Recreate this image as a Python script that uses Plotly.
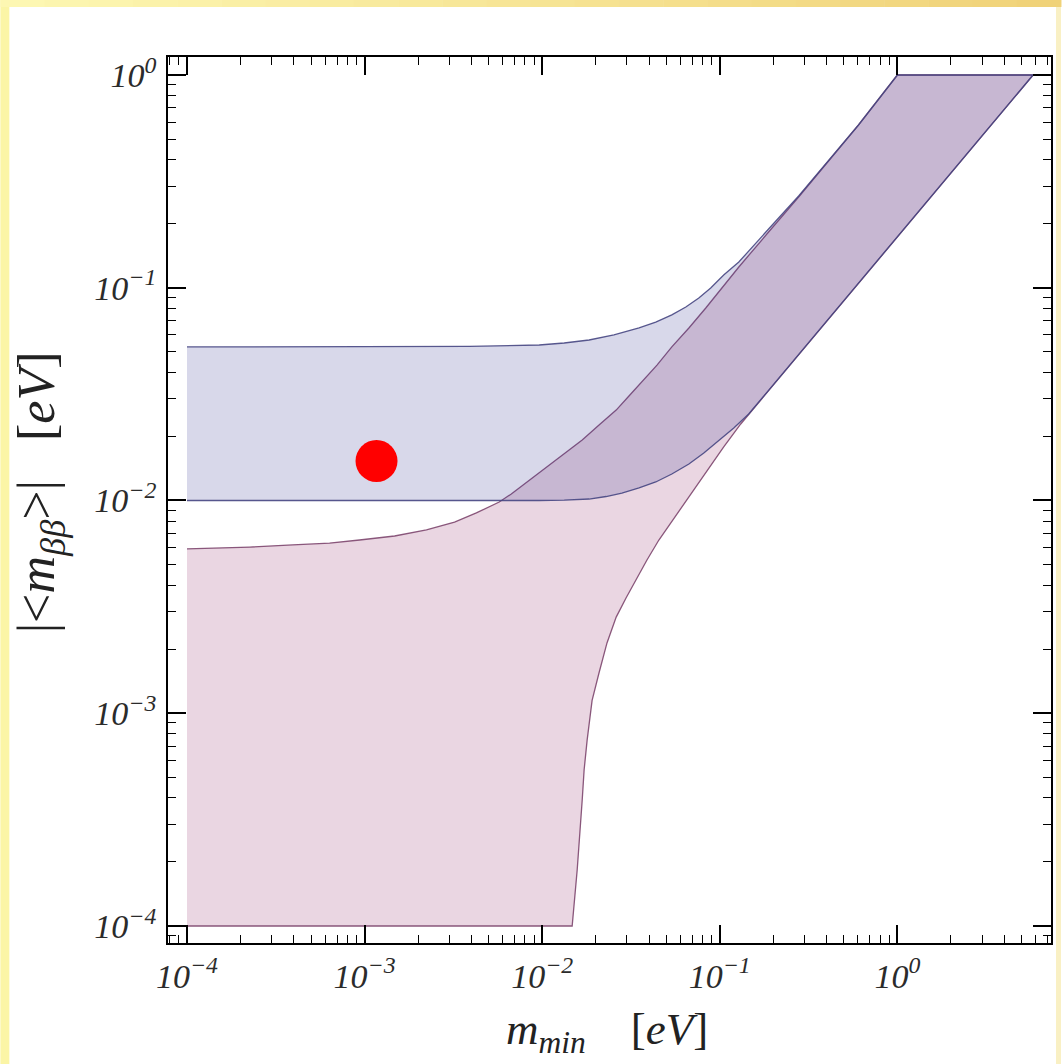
import plotly.graph_objects as go

# ---------------- data ----------------
# Normal hierarchy (pink band): upper boundary, left -> right
nh_upper_m   = [1e-4, 2.26e-4, 3.94e-4, 6.35e-4, 9.37e-4, 1.476e-3, 2.23e-3, 3.21e-3, 4.26e-3,
                5.04e-3, 5.73e-3, 6.70e-3, 7.93e-3, 9.25e-3, 0.01094, 0.01346, 0.0168, 0.0209,
                0.0261, 0.0308, 0.0365, 0.0443, 0.0537, 0.0670, 0.0834, 0.1025, 0.128, 0.1883,
                0.278, 0.604, 1.0, 5.81]
nh_upper_mbb = [5.92e-3, 6.04e-3, 6.18e-3, 6.31e-3, 6.52e-3, 6.81e-3, 7.27e-3, 7.92e-3, 8.74e-3,
                9.32e-3, 9.84e-3, 0.01073, 0.01196, 0.01318, 0.01468, 0.01672, 0.01925, 0.02264,
                0.0266, 0.0310, 0.0361, 0.0433, 0.0527, 0.0647, 0.0803, 0.0997, 0.1252, 0.1828,
                0.267, 0.582, 1.0, 1.0]
# Normal hierarchy: lower boundary, right -> left
nh_lower_m   = [5.81, 1.01, 0.278, 0.1656, 0.1312, 0.105, 0.0834, 0.0612, 0.0454, 0.0389, 0.0337,
                0.02965, 0.0261, 0.02317, 0.0209, 0.01986, 0.0191, 0.01791, 0.01722, 0.0168,
                0.01574, 0.01475, 1e-4]
nh_lower_mbb = [1.0, 0.175, 0.0483, 0.0287, 0.02289, 0.0178, 0.01346, 0.00932, 0.00652, 5.25e-3,
                0.00423, 3.48e-3, 0.00283, 2.14e-3, 0.00155, 1.314e-3, 0.00115, 7.48e-4, 5.41e-4,
                3.91e-4, 1.833e-4, 1e-4, 1e-4]

# Inverted hierarchy (blue band): upper boundary, left -> right
ih_upper_m   = [1e-4, 1.574e-3, 3.89e-3, 9.62e-3, 0.0133, 0.01837, 0.02535, 0.0351, 0.0436,
                0.0537, 0.0644, 0.0762, 0.0889, 0.1052, 0.128, 0.1883, 0.278, 0.604, 1.0, 5.81]
ih_upper_mbb = [0.0527, 0.0527, 0.0530, 0.0538, 0.0550, 0.0568, 0.0600, 0.0647, 0.0690,
                0.0745, 0.0812, 0.0895, 0.0997, 0.1148, 0.1321, 0.1888, 0.270, 0.582, 1.0, 1.0]
# Inverted hierarchy: lower boundary, right -> left
ih_lower_m   = [5.81, 1.01, 0.278, 0.1883, 0.1455, 0.1199, 0.0986, 0.0813, 0.0670, 0.0537,
                0.0436, 0.0351, 0.0281, 0.0229, 0.01837, 0.0133, 9.62e-3, 1e-4]
ih_lower_mbb = [1.0, 0.175, 0.0483, 0.0327, 0.0255, 0.02192, 0.0192, 0.01672, 0.01484, 0.01332,
                0.01222, 0.01145, 0.01084, 0.01044, 0.01016, 0.01003, 0.01, 0.01]

# highlighted point
point_m   = [1.167e-3]
point_mbb = [0.01533]

tick_vals = [1e-4, 1e-3, 1e-2, 1e-1, 1e0]
tick_text = ["10<sup>\u22124</sup>", "10<sup>\u22123</sup>", "10<sup>\u22122</sup>",
             "10<sup>\u22121</sup>", "10<sup>0</sup>"]

# ---------------- figure ----------------
W, H = 1063, 1064
ML, MR, MT, MB = 168, 10, 57, 121
PW, PH = W - ML - MR, H - MT - MB

fig = go.Figure()

fig.add_trace(go.Scatter(
    x=nh_upper_m + nh_lower_m, y=nh_upper_mbb + nh_lower_mbb,
    mode="lines", fill="toself", fillcolor="rgba(180,109,151,0.28)",
    line=dict(color="rgba(125,70,110,0.9)", width=1.3),
    hoverinfo="skip", showlegend=False))

fig.add_trace(go.Scatter(
    x=ih_upper_m + ih_lower_m, y=ih_upper_mbb + ih_lower_mbb,
    mode="lines", fill="toself", fillcolor="rgba(60,60,150,0.20)",
    line=dict(color="rgba(70,70,130,0.9)", width=1.3),
    hoverinfo="skip", showlegend=False))

fig.add_trace(go.Scatter(
    x=point_m, y=point_mbb, mode="markers",
    marker=dict(size=42, color="#ff0000", line=dict(width=0)),
    hoverinfo="skip", showlegend=False))

minor_vals = [k * 10.0 ** e for e in range(-5, 2) for k in range(2, 10)]

axis_common = dict(
    type="log", showgrid=False, zeroline=False,
    showline=True, linecolor="black", linewidth=1.8, mirror="ticks",
    ticks="inside", ticklen=18, tickwidth=1.5, tickcolor="black",
    tickmode="array", tickvals=tick_vals, ticktext=tick_text,
    tickfont=dict(family="Liberation Serif", size=34, color="#2b2b2b", style="italic"),
    minor=dict(tickmode="array", tickvals=minor_vals, ticks="inside", ticklen=8,
               tickwidth=1.3, tickcolor="black", showgrid=False),
)

fig.update_xaxes(range=[-4.107, 0.865], ticklabelstandoff=2, **axis_common)
fig.update_yaxes(range=[-4.080, 0.0846], ticklabelstandoff=3, **axis_common)

# yellow frame around the white panel (decoration)
def px2x(px):
    return (px - ML) / PW

def py2y(py):
    return (H - MB - py) / PH

shapes = []
shapes.append(dict(type="rect", xref="paper", yref="paper", x0=px2x(0), x1=px2x(9),
                   y0=py2y(H), y1=py2y(0), fillcolor="#fbf5a6", line=dict(width=0), layer="below"))
shapes.append(dict(type="rect", xref="paper", yref="paper", x0=px2x(1058), x1=px2x(W),
                   y0=py2y(H), y1=py2y(0), fillcolor="#f9f0c4", line=dict(width=0), layer="below"))
n = 24
c0 = (253, 247, 178)
c1 = (240, 210, 120)
for i in range(n):
    t = i / (n - 1)
    c = tuple(int(round(c0[j] + (c1[j] - c0[j]) * t)) for j in range(3))
    shapes.append(dict(type="rect", xref="paper", yref="paper",
                       x0=px2x(W * i / n), x1=px2x(W * (i + 1) / n + 0.5),
                       y0=py2y(7), y1=py2y(0),
                       fillcolor="rgb(%d,%d,%d)" % c, line=dict(width=0), layer="below"))

annotations = [
    dict(text="<i>m</i><sub><i>min</i></sub>&nbsp;&nbsp;&nbsp;&nbsp;[<i>eV</i>]",
         xref="paper", yref="paper", x=px2x(608), y=py2y(1032),
         xanchor="center", yanchor="middle", showarrow=False,
         font=dict(family="Liberation Serif", size=45, color="#222")),
    dict(text="|&lt;<i>m</i><sub><i>\u03b2\u03b2</i></sub>&gt;|&nbsp;&nbsp;&nbsp;[<i>eV</i>]",
         xref="paper", yref="paper", x=px2x(40), y=py2y(492),
         xanchor="center", yanchor="middle", showarrow=False, textangle=-90,
         font=dict(family="Liberation Serif", size=52, color="#222")),
]

fig.update_layout(
    width=W, height=H,
    margin=dict(l=ML, r=MR, t=MT, b=MB, pad=0),
    paper_bgcolor="white", plot_bgcolor="white",
    shapes=shapes, annotations=annotations,
)

fig.write_html("out.html", config={"displayModeBar": False},
               post_script="document.body.style.margin='0';document.body.style.padding='0';")
